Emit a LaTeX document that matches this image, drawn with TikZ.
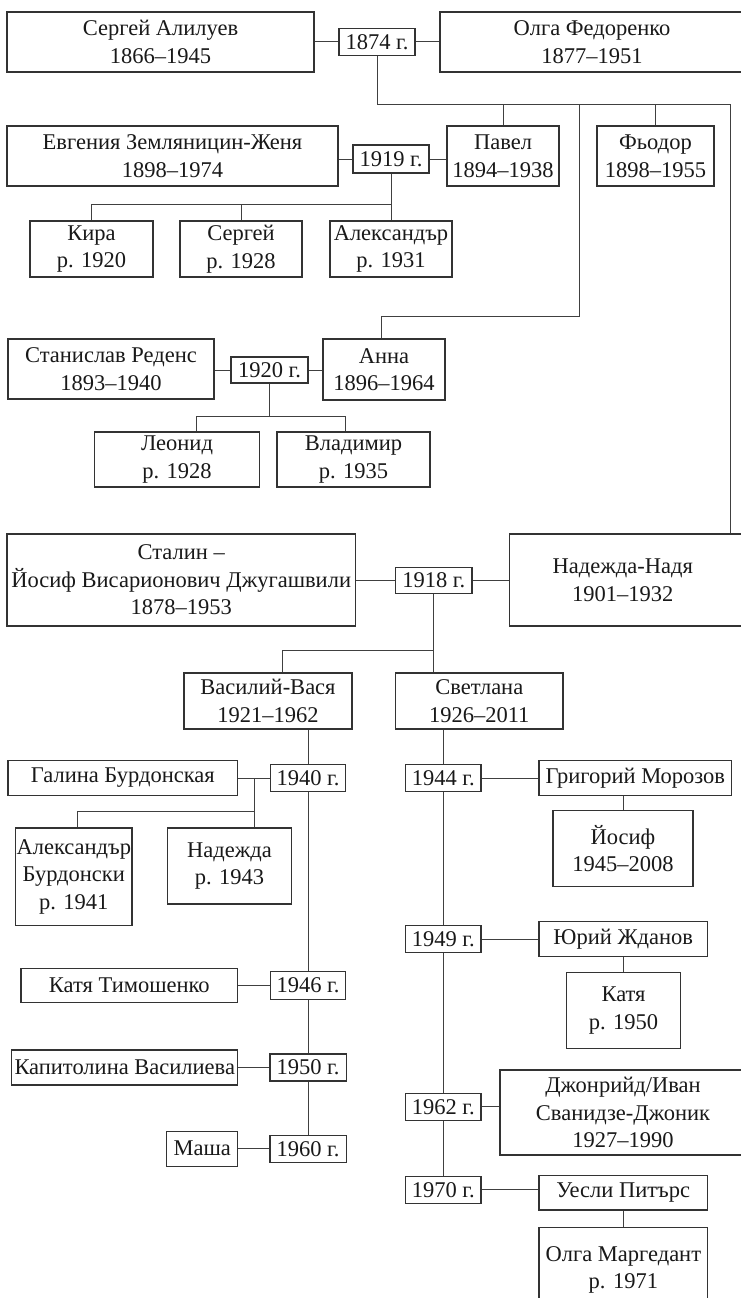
\documentclass[tikz,border=0pt]{standalone}
\usepackage{fontspec}
\setmainfont{Liberation Serif}
\begin{document}
\begin{tikzpicture}[x=1pt,y=-1pt,
  box/.style={draw=black!80,line width=1.1pt,rectangle,inner sep=0pt,align=center,
    font=\fontsize{22.5}{27.5}\selectfont,text=black!90},
  link/.style={draw=black!75,line width=1pt}]
\fill[white] (0,0) rectangle (741,1298);
\useasboundingbox (0,0) rectangle (741,1298);
% ---- generation 1
\node[box,minimum width=307,minimum height=60] (sergey) at (160.5,42) {Сергей Алилуев\\1866–1945};
\node[box,minimum width=76,minimum height=27] (m1874) at (377,42) {1874 г.};
\node[box,minimum width=304,minimum height=60] (olga) at (592,42) {Олга Федоренко\\1877–1951};
% ---- generation 2
\node[box,minimum width=331,minimum height=60] (evgeniya) at (172.5,156) {Евгения Земляницин-Женя\\1898–1974};
\node[box,minimum width=76,minimum height=28] (m1919) at (391,159) {1919 г.};
\node[box,minimum width=112,minimum height=60] (pavel) at (503,156) {Павел\\1894–1938};
\node[box,minimum width=117,minimum height=60] (fyodor) at (655.5,156) {Фьодор\\1898–1955};
\node[box,minimum width=123,minimum height=56] (kira) at (91.5,249) {Кира\\р. 1920};
\node[box,minimum width=122,minimum height=56] (sergey2) at (241,249) {Сергей\\р. 1928};
\node[box,minimum width=122,minimum height=56] (aleks) at (391,249) {Александър\\р. 1931};
\node[box,minimum width=206,minimum height=60] (stanislav) at (111,369) {Станислав Реденс\\1893–1940};
\node[box,minimum width=77,minimum height=26] (m1920) at (269.5,370) {1920 г.};
\node[box,minimum width=122,minimum height=61] (anna) at (384,369.5) {Анна\\1896–1964};
\node[box,minimum width=165,minimum height=55] (leonid) at (177,459.5) {Леонид\\р. 1928};
\node[box,minimum width=153,minimum height=55] (vladimir) at (353.5,459.5) {Владимир\\р. 1935};
\node[box,minimum width=348.5,minimum height=92] (stalin) at (181.25,580) {Сталин –\\Йосиф Висарионович Джугашвили\\1878–1953};
\node[box,minimum width=76.5,minimum height=25.5] (m1918) at (433.75,580.5) {1918 г.};
\node[box,minimum width=232.5,minimum height=92] (nadezhda) at (625.75,580) {Надежда-Надя\hspace*{6pt}\\1901–1932\hspace*{6pt}};
% ---- generation 3
\node[box,minimum width=168,minimum height=56] (vasily) at (268,701) {Василий-Вася\\1921–1962};
\node[box,minimum width=167.5,minimum height=56] (svetlana) at (479.25,701) {Светлана\\1926–2011};
% Vasily
\node[box,minimum width=229.7,minimum height=34.5] (galina) at (122.85,778) {Галина Бурдонская};
\node[box,minimum width=75.8,minimum height=27.4] (m1940) at (308,778) {1940 г.};
\node[box,minimum width=116.4,minimum height=97.7] (aleksb) at (73.8,876.85) {Александър\\Бурдонски\\р. 1941};
\node[box,minimum width=124.3,minimum height=76] (nadezhda2) at (229.45,866) {Надежда\\р. 1943};
\node[box,minimum width=216.7,minimum height=34.4] (katyat) at (129.35,985.5) {Катя Тимошенко};
\node[box,minimum width=75.6,minimum height=27.3] (m1946) at (308,985.5) {1946 г.};
\node[box,minimum width=225.9,minimum height=35] (kapitolina) at (124.75,1067.5) {Капитолина Василиева};
\node[box,minimum width=76.1,minimum height=27] (m1950) at (308,1067.5) {1950 г.};
\node[box,minimum width=70.9,minimum height=35] (masha) at (202.25,1148.7) {Маша};
\node[box,minimum width=76.1,minimum height=27] (m1960) at (308,1148.7) {1960 г.};
% Svetlana
\node[box,minimum width=75.5,minimum height=27.7] (m1944) at (443.25,778) {1944 г.};
\node[box,minimum width=192.6,minimum height=34.6] (grigory) at (635.3,778) {Григорий Морозов};
\node[box,minimum width=140,minimum height=76.4] (yosif) at (623,848.5) {Йосиф\\1945–2008};
\node[box,minimum width=75.5,minimum height=26.6] (m1949) at (443.25,939) {1949 г.};
\node[box,minimum width=168.5,minimum height=35] (yuri) at (623.25,939.2) {Юрий Жданов};
\node[box,minimum width=113.9,minimum height=76] (katya) at (623.55,1010.3) {Катя\\р. 1950};
\node[box,minimum width=75.5,minimum height=26.7] (m1962) at (443.25,1106.7) {1962 г.};
\node[box,minimum width=246,minimum height=85] (djon) at (623,1112.5) {Джонрийд/Иван\\Сванидзе-Джоник\\1927–1990};
\node[box,minimum width=75.5,minimum height=27.3] (m1970) at (443.25,1189.7) {1970 г.};
\node[box,minimum width=168.5,minimum height=34.7] (uesli) at (623.25,1192.6) {Уесли Питърс};
\node[box,minimum width=168.7,minimum height=84] (olgam) at (623.35,1269.7) {Олга Маргедант\\р. 1971};
% ---- helper coordinates
\coordinate (tr) at (730,104);
\coordinate (ab) at (579,104);
\coordinate (ac) at (381,316);
\coordinate (bar19) at (391,204);
\coordinate (l20) at (196,416);
\coordinate (r20) at (345.5,416);
\coordinate (v18) at (282,650);
\coordinate (g1) at (254.5,778);
\coordinate (g2) at (254.5,811);
\coordinate (g3) at (77,811);
% ---- connectors
\draw[link] (sergey.east |- m1874.west) -- (m1874.west);
\draw[link] (m1874.east) -- (olga.west |- m1874.east);
\draw[link] (m1874.south) |- (tr) -- (tr |- nadezhda.north);
\draw[link] (pavel.north) -- (pavel.north |- tr);
\draw[link] (fyodor.north) -- (fyodor.north |- tr);
\draw[link] (ab) |- (ac) -- (ac |- anna.north);
\draw[link] (evgeniya.east |- m1919.west) -- (m1919.west);
\draw[link] (m1919.east) -- (pavel.west |- m1919.east);
\draw[link] (m1919.south) -- (aleks.north);
\draw[link] (kira.north) |- (bar19);
\draw[link] (sergey2.north) -- (sergey2.north |- bar19);
\draw[link] (stanislav.east |- m1920.west) -- (m1920.west);
\draw[link] (m1920.east) -- (anna.west |- m1920.east);
\draw[link] (m1920.south) -- (m1920.south |- l20);
\draw[link] (leonid.north -| l20) -- (l20) -- (r20) -- (vladimir.north -| r20);
\draw[link] (stalin.east |- m1918.west) -- (m1918.west);
\draw[link] (m1918.east) -- (nadezhda.west |- m1918.east);
\draw[link] (m1918.south) -- (svetlana.north -| m1918.south);
\draw[link] (vasily.north -| v18) -- (v18) -- (v18 -| m1918.south);
% Vasily line
\draw[link] (vasily.south -| m1940.north) -- (m1940.north);
\draw[link] (m1940.south) -- (m1946.north);
\draw[link] (m1946.south) -- (m1950.north);
\draw[link] (m1950.south) -- (m1960.north);
\draw[link] (galina.east |- m1940.west) -- (m1940.west);
\draw[link] (g1) -- (nadezhda2.north -| g1);
\draw[link] (g2) -- (g3) -- (aleksb.north -| g3);
\draw[link] (katyat.east |- m1946.west) -- (m1946.west);
\draw[link] (kapitolina.east |- m1950.west) -- (m1950.west);
\draw[link] (masha.east |- m1960.west) -- (m1960.west);
% Svetlana line
\draw[link] (svetlana.south -| m1944.north) -- (m1944.north);
\draw[link] (m1944.south) -- (m1949.north);
\draw[link] (m1949.south) -- (m1962.north);
\draw[link] (m1962.south) -- (m1970.north);
\draw[link] (m1944.east) -- (grigory.west |- m1944.east);
\draw[link] (grigory.south -| yosif.north) -- (yosif.north);
\draw[link] (m1949.east) -- (yuri.west |- m1949.east);
\draw[link] (yuri.south -| katya.north) -- (katya.north);
\draw[link] (m1962.east) -- (djon.west |- m1962.east);
\draw[link] (m1970.east) -- (uesli.west |- m1970.east);
\draw[link] (uesli.south -| olgam.north) -- (olgam.north);
\end{tikzpicture}
\end{document}
